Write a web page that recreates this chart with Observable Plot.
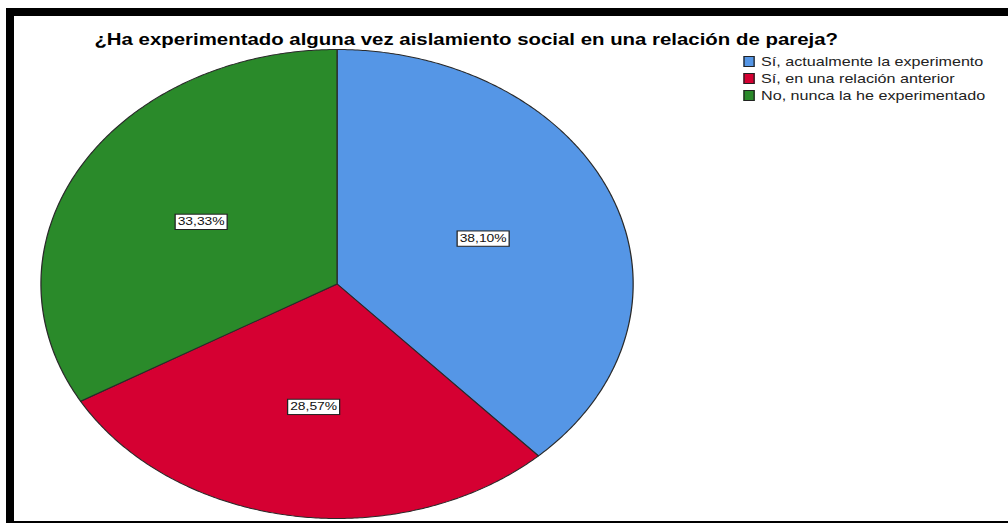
<!DOCTYPE html>
<html><head><meta charset="utf-8">
<script src="https://cdn.jsdelivr.net/npm/d3@7"></script>
<script src="https://cdn.jsdelivr.net/npm/@observablehq/plot@0.6"></script>
<style>
html,body{margin:0;padding:0;background:#fff;}
body{width:1008px;height:523px;overflow:hidden;position:relative;font-family:"Liberation Sans",Arial,sans-serif;}
#border{position:absolute;left:6px;top:8px;width:1010px;height:515px;border-left:8px solid #000;border-top:8px solid #000;border-bottom:2px solid #000;box-sizing:border-box;pointer-events:none;}
#stage{position:absolute;left:0;top:0;width:800px;height:523px;transform:scaleX(1.26);transform-origin:0 0;}
#stage svg{position:absolute;left:0;top:0;}
#title{position:absolute;top:31px;left:0;width:740px;text-align:center;font-weight:bold;font-size:16.2px;line-height:16px;color:#000;white-space:nowrap;}
#legend{position:absolute;left:590px;top:53px;font-size:12.8px;color:#222;}
.row{display:flex;align-items:center;height:17px;white-space:nowrap;}
.sw{width:7px;height:9px;border:1px solid #222;margin-right:5px;}
</style>
</head><body>
<div id="stage"><div id="title"></div><div id="legend"></div></div>
<div id="border"></div>
<script>
const title = "¿Ha experimentado alguna vez aislamiento social en una relación de pareja?";
const categories = ["Sí, actualmente la experimento", "Sí, en una relación anterior", "No, nunca la he experimentado"];
const percentages = [38.10, 28.57, 33.33];
const labels = ["38,10%", "28,57%", "33,33%"];
const colors = ["#5596E6", "#D50032", "#2A8A2A"];

const arcs = d3.pie().sort(null).value(d => d)(percentages);
const slicePts = [];
arcs.forEach((a, i) => {
  slicePts.push({cat: categories[i], x: 0, y: 0});
  const n = Math.max(2, Math.ceil((a.endAngle - a.startAngle) / (Math.PI / 360)));
  for (let k = 0; k <= n; k++) {
    const t = a.startAngle + (a.endAngle - a.startAngle) * k / n;
    slicePts.push({cat: categories[i], x: Math.sin(t), y: Math.cos(t)});
  }
  slicePts.push({cat: categories[i], x: 0, y: 0});
});
const labelR = 0.53;
const labelPts = arcs.map((a, i) => {
  const t = (a.startAngle + a.endAngle) / 2;
  return {text: labels[i], x: labelR * Math.sin(t), y: labelR * Math.cos(t)};
});

const chart = Plot.plot({
  width: 800, height: 523,
  marginLeft: 32, marginRight: 298, marginTop: 49, marginBottom: 5,
  x: {domain: [-1, 1], axis: null},
  y: {domain: [-1, 1], axis: null},
  color: {domain: categories, range: colors},
  style: {background: "transparent", overflow: "visible", fontFamily: "'Liberation Sans', Arial, sans-serif"},
  marks: [
    Plot.line(slicePts, {x: "x", y: "y", z: "cat", fill: "cat", stroke: "#2a2a2a", strokeWidth: 1, curve: "linear"}),
    Plot.text(labelPts, {x: "x", y: "y", text: "text", fontSize: 11, fill: "#111"})
  ]
});
const stage = document.getElementById("stage");
stage.insertBefore(chart, stage.firstChild);
document.getElementById("title").textContent = title;
const legend = document.getElementById("legend");
categories.forEach((c, i) => {
  const row = document.createElement("div"); row.className = "row";
  const sw = document.createElement("span"); sw.className = "sw"; sw.style.background = colors[i];
  const tx = document.createElement("span"); tx.textContent = c;
  row.appendChild(sw); row.appendChild(tx); legend.appendChild(row);
});
// label boxes
d3.select(chart).selectAll("g[aria-label='text'] text").each(function() {
  const bb = this.getBBox();
  const r = document.createElementNS("http://www.w3.org/2000/svg", "rect");
  r.setAttribute("x", bb.x - 2); r.setAttribute("y", bb.y - 1.5);
  r.setAttribute("width", bb.width + 4); r.setAttribute("height", bb.height + 3);
  r.setAttribute("fill", "#fff"); r.setAttribute("stroke", "#222"); r.setAttribute("stroke-width", 1);
  const tr = this.getAttribute("transform"); if (tr) r.setAttribute("transform", tr);
  this.parentNode.insertBefore(r, this);
});
</script>
</body></html>
